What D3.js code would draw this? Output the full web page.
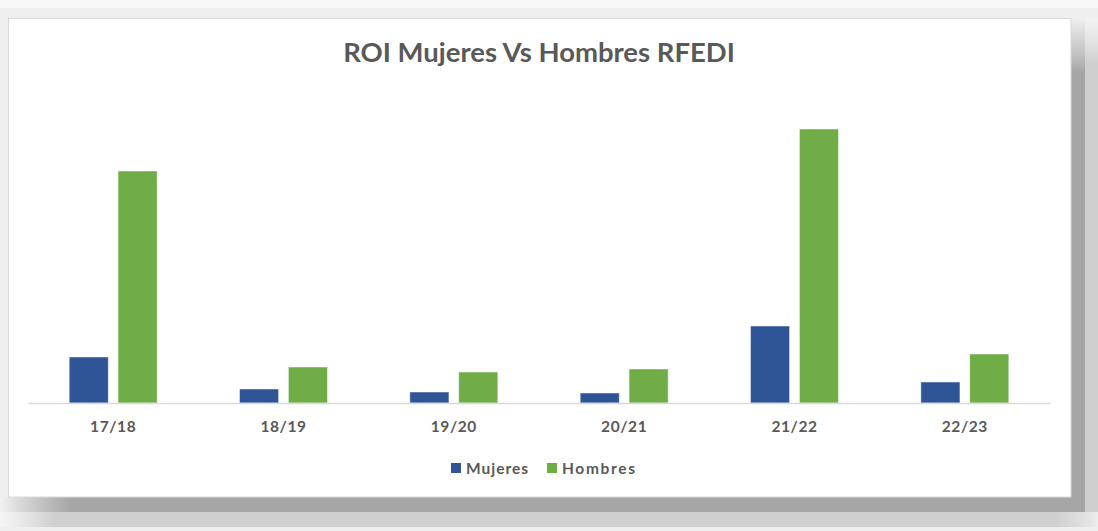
<!DOCTYPE html>
<html><head><meta charset="utf-8">
<script src="https://cdn.jsdelivr.net/npm/d3@7"></script>
<style>html,body{margin:0;padding:0;background:#f8f8f8;overflow:hidden}</style>
</head><body>
<svg id="c" width="1098" height="531"></svg>
<script>
const categories = ["17/18","18/19","19/20","20/21","21/22","22/23"];
const seriesNames = ["Mujeres","Hombres"];
const mujeres = [46, 14, 11, 10, 77, 21];
const hombres = [232, 36, 31, 34, 274, 49];
const colors = ["#2f5597", "#70ad47"];
const title = "ROI Mujeres Vs Hombres RFEDI";

const svg = d3.select("#c");
const defs = svg.append("defs");
function grad(id, x2, y2, stops){
  const g = defs.append("linearGradient").attr("id", id).attr("x1",0).attr("y1",0).attr("x2",x2).attr("y2",y2);
  stops.forEach(s => g.append("stop").attr("offset", s[0]).attr("stop-color", s[1]));
}
grad("rd", 0, 1, [[0,"#efefef"],[0.03,"#dcdcdc"],[0.07,"#c4c4c4"],[0.11,"#a6a6a6"],[1,"#a6a6a6"]]);
grad("rl", 0, 1, [[0,"#f3f3f3"],[0.04,"#e6e6e6"],[0.09,"#cfcfcf"],[1,"#cfcfcf"]]);
grad("bd", 1, 0, [[0,"#f2f2f2"],[0.015,"#dcdcdc"],[0.04,"#c0c0c0"],[0.065,"#a6a6a6"],[1,"#a6a6a6"]]);
grad("bl", 1, 0, [[0,"#f5f5f5"],[0.02,"#e8e8e8"],[0.05,"#cfcfcf"],[0.96,"#cfcfcf"],[0.99,"#e2e2e2"],[1,"#eeeeee"]]);

// background / shadow
svg.append("rect").attr("x",0).attr("y",8).attr("width",1098).attr("height",523).attr("fill","#efefef");
svg.append("rect").attr("x",1085).attr("y",18).attr("width",13).attr("height",509).attr("fill","url(#rl)");
svg.append("rect").attr("x",0).attr("y",512).attr("width",1098).attr("height",15).attr("fill","url(#bl)");
svg.append("rect").attr("x",1071).attr("y",18).attr("width",14).attr("height",494).attr("fill","url(#rd)");
svg.append("rect").attr("x",0).attr("y",497).attr("width",1085).attr("height",15).attr("fill","url(#bd)");
// chart area
svg.append("rect").attr("x",8.5).attr("y",18.5).attr("width",1062.5).attr("height",478.5)
  .attr("fill","#ffffff").attr("stroke","#d9d9d9").attr("stroke-width",1);

const font = "Lato, 'Open Sans', sans-serif";
const baseline = 403;
const x0 = d3.scaleBand().domain(categories).range([28, 1050]).padding(0);
const x1 = d3.scaleBand().domain(seriesNames).range([0, 88]).paddingInner(0.2);
const y = d3.scaleLinear().domain([0, 300]).range([baseline, 103]);

const data = categories.map((c, i) => ({cat: c, vals: [mujeres[i], hombres[i]]}));
const off = (x0.bandwidth() - 88) / 2;

const g = svg.append("g");
data.forEach(d => {
  d.vals.forEach((v, j) => {
    g.append("rect")
      .attr("x", x0(d.cat) + off + x1(seriesNames[j]))
      .attr("y", y(v))
      .attr("width", x1.bandwidth())
      .attr("height", y(0) - y(v))
      .attr("fill", colors[j])
      .attr("stroke", "#ffffff").attr("stroke-opacity", 0.6).attr("stroke-width", 0.8);
  });
});

// axis
const ax = svg.append("g").attr("transform", `translate(0,${baseline})`)
  .call(d3.axisBottom(x0).tickSize(0).tickPadding(18));
ax.select(".domain").attr("stroke", "#d9d9d9").attr("stroke-width", 1.5);
ax.selectAll("text").attr("font-family", font).attr("font-weight", "bold")
  .attr("font-size", 15.5).attr("letter-spacing", 0.6).attr("fill", "#595959");

// title
const t = svg.append("text").attr("x", 539).attr("y", 62).attr("text-anchor", "middle")
  .attr("font-family", font).attr("font-weight", "bold").attr("font-size", 25)
  .attr("fill", "#595959").text(title);
const tw = t.node().getComputedTextLength();
t.attr("font-size", 25 * 392 / tw);

// legend
const legX = [451, 547];
const legW = [62, 73];
seriesNames.forEach((s, j) => {
  svg.append("rect").attr("x", legX[j]).attr("y", 463).attr("width", 10).attr("height", 10).attr("fill", colors[j]);
  svg.append("text").attr("x", legX[j] + 15).attr("y", 473.5)
    .attr("font-family", font).attr("font-weight", "bold").attr("font-size", 15.5)
    .attr("textLength", legW[j]).attr("lengthAdjust", "spacing")
    .attr("fill", "#595959").text(s);
});
</script>
</body></html>
